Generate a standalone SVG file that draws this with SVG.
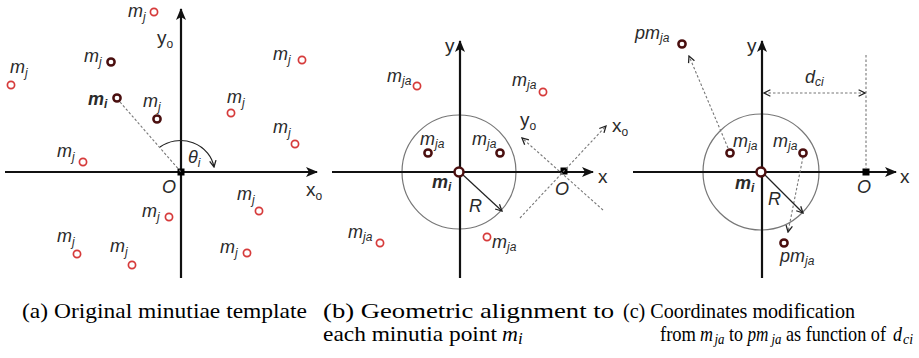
<svg xmlns="http://www.w3.org/2000/svg" width="919" height="358" viewBox="0 0 919 358">
<style>
.ax{stroke:#111;stroke-width:2.2;fill:none}
.pt{fill:#fff;stroke:#d63b3b;stroke-width:1.7}
.pd{fill:#fff;stroke:#4a0f0f;stroke-width:2.5}
.lb{font-family:"Liberation Sans",Arial,sans-serif;font-style:italic;font-size:18px;fill:#2a2a2a}
.bd{font-weight:bold}
.up{font-family:"Liberation Sans",Arial,sans-serif;font-size:19px;fill:#2a2a2a}
.sb{font-size:12px}
.dl{stroke:#777;stroke-width:1.1;stroke-dasharray:2.5 2;fill:none}
.ar{stroke:#222;stroke-width:1.2;fill:none}
.ci{stroke:#777;stroke-width:1.2;fill:none}
.cap{font-family:"Liberation Serif","Times New Roman",serif;font-size:22px;fill:#000}
.c2{font-family:"Liberation Serif","Times New Roman",serif;font-size:21px;fill:#000}
.cs{font-family:"Liberation Serif","Times New Roman",serif;font-size:15px;font-style:italic;fill:#000}
.mi{font-style:italic}
</style>
<defs>
<marker id="ah" viewBox="0 0 12 10" refX="11" refY="5" markerWidth="12" markerHeight="10" markerUnits="userSpaceOnUse" orient="auto"><path d="M0,0 L12,5 L0,10 L3,5 z" fill="#111"/></marker>
<marker id="vh" viewBox="0 0 10 10" refX="9" refY="5" markerWidth="8" markerHeight="8" markerUnits="userSpaceOnUse" orient="auto-start-reverse"><path d="M1,1 L9,5 L1,9" fill="none" stroke="#222" stroke-width="1.6"/></marker>
</defs>

<!-- Panel (a) -->
<g id="panel-a">
  <g id="a-axes">
    <line class="ax" x1="181" y1="278" x2="181" y2="9" marker-end="url(#ah)"/>
    <line class="ax" x1="5" y1="172" x2="317" y2="172" marker-end="url(#ah)"/>
    <rect x="177.5" y="168.5" width="7" height="7" fill="#000"/>
    <text class="up" x="157" y="44">y<tspan class="sb" dy="4">o</tspan></text>
    <text class="up" x="306" y="196">x<tspan class="sb" dy="4">o</tspan></text>
    <text class="lb" x="162" y="193" font-size="20">O</text>
  </g>
  <g id="a-connectors">
    <line class="dl" x1="120" y1="102" x2="181" y2="172"/>
    <path class="ar" d="M160,147 A34,32 0 0 1 214,167" marker-end="url(#vh)"/>
    <text class="lb" x="188" y="163">θ<tspan class="sb" dy="4">i</tspan></text>
  </g>
  <g id="a-mj1"><text class="lb" x="128" y="17">m<tspan class="sb" dy="4">j</tspan></text><circle class="pt" cx="154" cy="12" r="3.6"/></g>
  <g id="a-mj2"><text class="lb" x="84" y="62">m<tspan class="sb" dy="4">j</tspan></text><circle class="pd" cx="111" cy="62" r="3.6"/></g>
  <g id="a-mj3"><text class="lb" x="10" y="73">m<tspan class="sb" dy="4">j</tspan></text><circle class="pt" cx="11" cy="85" r="3.6"/></g>
  <g id="a-mi"><text class="lb bd" x="88" y="105">m<tspan class="sb" dy="3">i</tspan></text><circle class="pd" cx="117" cy="98" r="3.6"/></g>
  <g id="a-mj4"><text class="lb" x="143" y="107">m<tspan class="sb" dy="4">j</tspan></text><circle class="pd" cx="157" cy="119" r="3.6"/></g>
  <g id="a-mj5"><text class="lb" x="227" y="103">m<tspan class="sb" dy="4">j</tspan></text><circle class="pt" cx="231" cy="113" r="3.6"/></g>
  <g id="a-mj6"><text class="lb" x="273" y="60">m<tspan class="sb" dy="4">j</tspan></text><circle class="pt" cx="302" cy="60" r="3.6"/></g>
  <g id="a-mj7"><text class="lb" x="273" y="133">m<tspan class="sb" dy="4">j</tspan></text><circle class="pt" cx="295" cy="144" r="3.6"/></g>
  <g id="a-mj8"><text class="lb" x="57" y="157">m<tspan class="sb" dy="4">j</tspan></text><circle class="pt" cx="83" cy="162" r="3.6"/></g>
  <g id="a-mj9"><text class="lb" x="237" y="200">m<tspan class="sb" dy="4">j</tspan></text><circle class="pt" cx="259" cy="211" r="3.6"/></g>
  <g id="a-mj10"><text class="lb" x="142" y="217">m<tspan class="sb" dy="4">j</tspan></text><circle class="pt" cx="169" cy="217" r="3.6"/></g>
  <g id="a-mj11"><text class="lb" x="57" y="242">m<tspan class="sb" dy="4">j</tspan></text><circle class="pt" cx="77" cy="254" r="3.6"/></g>
  <g id="a-mj12"><text class="lb" x="110" y="252">m<tspan class="sb" dy="4">j</tspan></text><circle class="pt" cx="132" cy="265" r="3.6"/></g>
  <g id="a-mj13"><text class="lb" x="220" y="253">m<tspan class="sb" dy="4">j</tspan></text><circle class="pt" cx="247" cy="253" r="3.6"/></g>
</g>

<!-- Panel (b) -->
<g id="panel-b">
  <g id="b-axes">
    <circle class="ci" cx="459" cy="172" r="57"/>
    <line class="ax" x1="460" y1="278" x2="460" y2="41" marker-end="url(#ah)"/>
    <line class="ax" x1="332" y1="172" x2="593" y2="172" marker-end="url(#ah)"/>
    <text class="up" x="445" y="52">y</text>
    <text class="up" x="598" y="183" font-size="21">x</text>
    <rect x="560.5" y="167.5" width="7" height="7" fill="#000"/>
    <text class="lb" x="555" y="195" font-size="20">O</text>
  </g>
  <g id="b-connectors">
    <line class="dl" x1="520" y1="218" x2="606" y2="126" marker-end="url(#vh)"/>
    <line class="dl" x1="603" y1="210" x2="522" y2="138" marker-end="url(#vh)"/>
    <line class="ar" x1="462" y1="174" x2="502" y2="211" marker-end="url(#vh)"/>
  </g>
  <text class="up" x="520" y="126">y<tspan class="sb" dy="4">o</tspan></text>
  <text class="up" x="612" y="132">x<tspan class="sb" dy="4">o</tspan></text>
  <text class="lb" x="469" y="212" font-size="20">R</text>
  <g id="b-mi"><circle class="pd" cx="459" cy="172" r="4.5"/><text class="lb bd" x="432" y="188">m<tspan class="sb" dy="3">i</tspan></text></g>
  <g id="b-mja1"><text class="lb" x="420" y="145">m<tspan class="sb" dy="3">ja</tspan></text><circle class="pd" cx="428" cy="153" r="3.6"/></g>
  <g id="b-mja2"><text class="lb" x="472" y="145">m<tspan class="sb" dy="3">ja</tspan></text><circle class="pd" cx="500" cy="153" r="3.6"/></g>
  <g id="b-mja3"><text class="lb" x="387" y="82">m<tspan class="sb" dy="3">ja</tspan></text><circle class="pt" cx="417" cy="86" r="3.6"/></g>
  <g id="b-mja4"><text class="lb" x="512" y="86">m<tspan class="sb" dy="3">ja</tspan></text><circle class="pt" cx="543" cy="92" r="3.6"/></g>
  <g id="b-mja5"><text class="lb" x="348" y="238">m<tspan class="sb" dy="3">ja</tspan></text><circle class="pt" cx="380" cy="243" r="3.6"/></g>
  <g id="b-mja6"><circle class="pt" cx="487" cy="237" r="3.6"/><text class="lb" x="492" y="248">m<tspan class="sb" dy="3">ja</tspan></text></g>
</g>

<!-- Panel (c) -->
<g id="panel-c">
  <g id="c-axes">
    <circle class="ci" cx="761" cy="172" r="58"/>
    <line class="ax" x1="762" y1="278" x2="762" y2="41" marker-end="url(#ah)"/>
    <line class="ax" x1="633" y1="172" x2="896" y2="172" marker-end="url(#ah)"/>
    <text class="up" x="747" y="52">y</text>
    <text class="up" x="900" y="183" font-size="21">x</text>
    <rect x="862.5" y="168.5" width="7" height="7" fill="#000"/>
    <text class="lb" x="857" y="193" font-size="20">O</text>
  </g>
  <g id="c-connectors">
    <line class="dl" x1="866" y1="55" x2="866" y2="169"/>
    <line class="dl" x1="764" y1="93" x2="865" y2="93" marker-start="url(#vh)" marker-end="url(#vh)"/>
    <line class="dl" x1="728" y1="148" x2="689" y2="56" marker-end="url(#vh)"/>
    <line class="dl" x1="803" y1="157" x2="788" y2="232" marker-end="url(#vh)"/>
    <line class="ar" x1="764" y1="174" x2="803" y2="213" marker-end="url(#vh)"/>
  </g>
  <text class="lb" x="805" y="83">d<tspan class="sb" dy="3">ci</tspan></text>
  <text class="lb" x="768" y="205" font-size="20">R</text>
  <g id="c-mi"><circle class="pd" cx="761" cy="172" r="4.5"/><text class="lb bd" x="735" y="189">m<tspan class="sb" dy="3">i</tspan></text></g>
  <g id="c-mja1"><circle class="pd" cx="730" cy="153" r="3.6"/><text class="lb" x="733" y="147">m<tspan class="sb" dy="3">ja</tspan></text></g>
  <g id="c-mja2"><text class="lb" x="773" y="147">m<tspan class="sb" dy="3">ja</tspan></text><circle class="pd" cx="803" cy="153" r="3.6"/></g>
  <g id="c-pmja1"><text class="lb" x="635" y="39">pm<tspan class="sb" dy="3">ja</tspan></text><circle class="pd" cx="682" cy="44" r="3.6"/></g>
  <g id="c-pmja2"><circle class="pd" cx="784" cy="243" r="3.6"/><text class="lb" x="780" y="262">pm<tspan class="sb" dy="3">ja</tspan></text></g>
</g>

<!-- Captions -->
<g id="captions">
  <text class="cap" x="22" y="318" textLength="285" lengthAdjust="spacingAndGlyphs">(a) Original minutiae template</text>
  <text class="cap" x="323" y="318" textLength="291" lengthAdjust="spacingAndGlyphs">(b) Geometric alignment to</text>
  <text class="cap" x="323" y="341" textLength="174" lengthAdjust="spacingAndGlyphs">each minutia point</text>
  <text class="cap mi" x="502" y="341" font-size="23">m<tspan font-size="17" dy="3">i</tspan></text>
  <text class="cap" x="623" y="318" textLength="232" lengthAdjust="spacingAndGlyphs">(c) Coordinates modification</text>
  <text class="c2" x="660" y="341" textLength="36" lengthAdjust="spacingAndGlyphs">from</text>
  <text class="c2 mi" x="700" y="341" textLength="13" lengthAdjust="spacingAndGlyphs">m</text>
  <text class="cs" x="714.5" y="344" textLength="10" lengthAdjust="spacingAndGlyphs">ja</text>
  <text class="c2" x="729" y="341" textLength="14" lengthAdjust="spacingAndGlyphs">to</text>
  <text class="c2 mi" x="747.5" y="341" textLength="21" lengthAdjust="spacingAndGlyphs">pm</text>
  <text class="cs" x="771.5" y="344" textLength="10" lengthAdjust="spacingAndGlyphs">ja</text>
  <text class="c2" x="786" y="341" textLength="100" lengthAdjust="spacingAndGlyphs">as function of</text>
  <text class="c2 mi" x="893" y="341" textLength="9" lengthAdjust="spacingAndGlyphs">d</text>
  <text class="cs" x="903" y="344" textLength="10" lengthAdjust="spacingAndGlyphs">ci</text>
</g>
</svg>
